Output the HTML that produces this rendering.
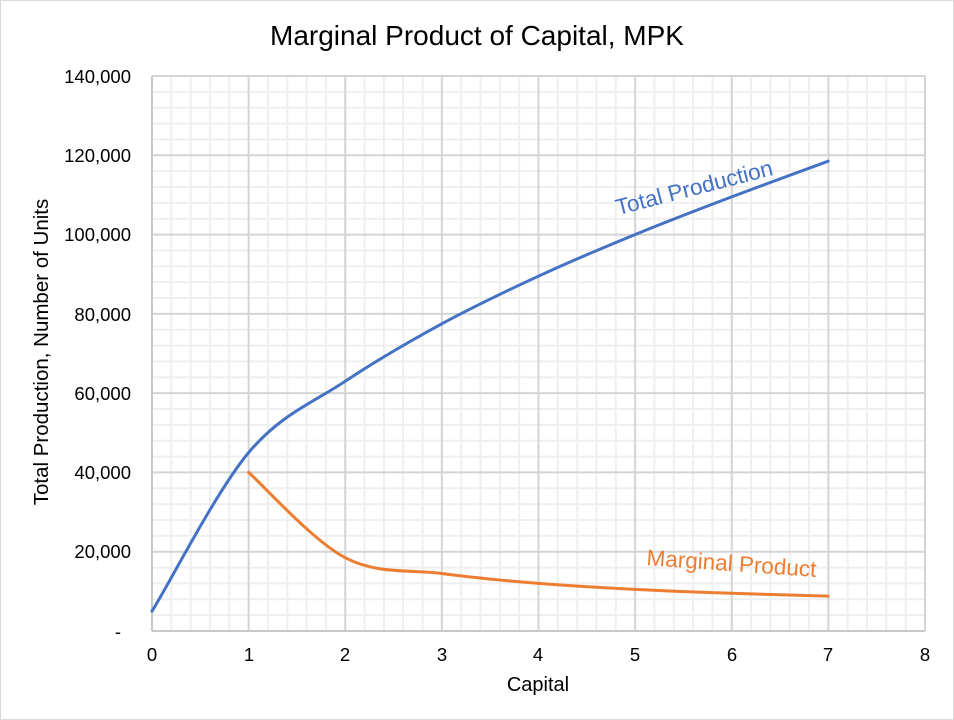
<!DOCTYPE html>
<html><head><meta charset="utf-8"><style>
html,body{margin:0;padding:0;background:#fff;}
svg{display:block;font-family:"Liberation Sans",Arial,sans-serif;}
</style></head><body>
<svg width="954" height="720" viewBox="0 0 954 720" xmlns="http://www.w3.org/2000/svg">
<rect x="0.5" y="0.5" width="953" height="719" fill="#fff" stroke="#d9d9d9"/>
<g id="minor" stroke="#efefef" stroke-width="2">
</g>
<script>
(function(){
var g=document.getElementById('minor');var ns='http://www.w3.org/2000/svg';
function L(x1,y1,x2,y2,c,w){var l=document.createElementNS(ns,'line');l.setAttribute('x1',x1);l.setAttribute('y1',y1);l.setAttribute('x2',x2);l.setAttribute('y2',y2);l.setAttribute('stroke',c);l.setAttribute('stroke-width',w);g.appendChild(l);}
for(var i=1;i<40;i++){if(i%5)L(152+i*96.625/5,76,152+i*96.625/5,631,'#efefef',2);}
for(var j=1;j<35;j++){if(j%5){var y=631-j*555/35;L(152,y,925,y,'#efefef',2);}}
for(var i=1;i<=8;i++)L(152+i*96.625,76,152+i*96.625,631,'#d4d4d4',2);
for(var j=1;j<=7;j++){var y=631-j*555/7;L(152,y,925,y,'#d4d4d4',2);}
L(152,76,152,631,'#c8c8c8',2);L(152,631,925,631,'#c8c8c8',2);
})();
</script>
<text x="477" y="45" font-size="28" text-anchor="middle" fill="#000">Marginal Product of Capital, MPK</text>
<g font-size="18.5" fill="#000" text-anchor="end">
<text x="131" y="83">140,000</text>
<text x="131" y="162">120,000</text>
<text x="131" y="241">100,000</text>
<text x="131" y="321">80,000</text>
<text x="131" y="400">60,000</text>
<text x="131" y="479">40,000</text>
<text x="131" y="558">20,000</text>
<text x="121" y="638">-</text>
</g>
<g font-size="18.5" fill="#000" text-anchor="middle">
<text x="152" y="661">0</text><text x="249" y="661">1</text><text x="345" y="661">2</text><text x="442" y="661">3</text><text x="538" y="661">4</text><text x="635" y="661">5</text><text x="732" y="661">6</text><text x="828" y="661">7</text><text x="925" y="661">8</text>
</g>
<text x="538" y="691" font-size="20" text-anchor="middle">Capital</text>
<text transform="translate(48,352) rotate(-90)" font-size="20.5" text-anchor="middle">Total Production, Number of Units</text>
<path fill="none" stroke="#4472c4" stroke-width="3" stroke-linecap="round" d="M152,611.2 C168.7,584.8 216.4,490.9 248.6,452.6 C280.8,414.3 313,402.8 345.2,381.3 C377.4,359.8 409.6,341.3 441.8,323.8 C474,306.3 506.2,291.1 538.4,276.2 C570.6,261.3 602.8,247.8 635,234.6 C667.2,221.4 699.4,209.1 731.6,196.9 C763.8,184.7 812.1,167.2 828.2,161.2"/>
<path fill="none" stroke="#ed7d31" stroke-width="3" stroke-linecap="round" d="M248.6,472.4 C264.7,486.6 313,540.9 345.2,557.7 C377.4,574.6 409.6,569.2 441.8,573.5 C474,577.8 506.2,580.8 538.4,583.4 C570.6,586 602.8,587.8 635,589.4 C667.2,591.1 699.4,592.2 731.6,593.3 C763.8,594.4 812.1,595.6 828.2,596.1"/>
<text transform="translate(696,195) rotate(-14.5)" font-size="22.5" fill="#4472c4" text-anchor="middle">Total Production</text>
<text transform="translate(731,571) rotate(4)" font-size="22.5" fill="#ed7d31" text-anchor="middle">Marginal Product</text>
</svg>
</body></html>
